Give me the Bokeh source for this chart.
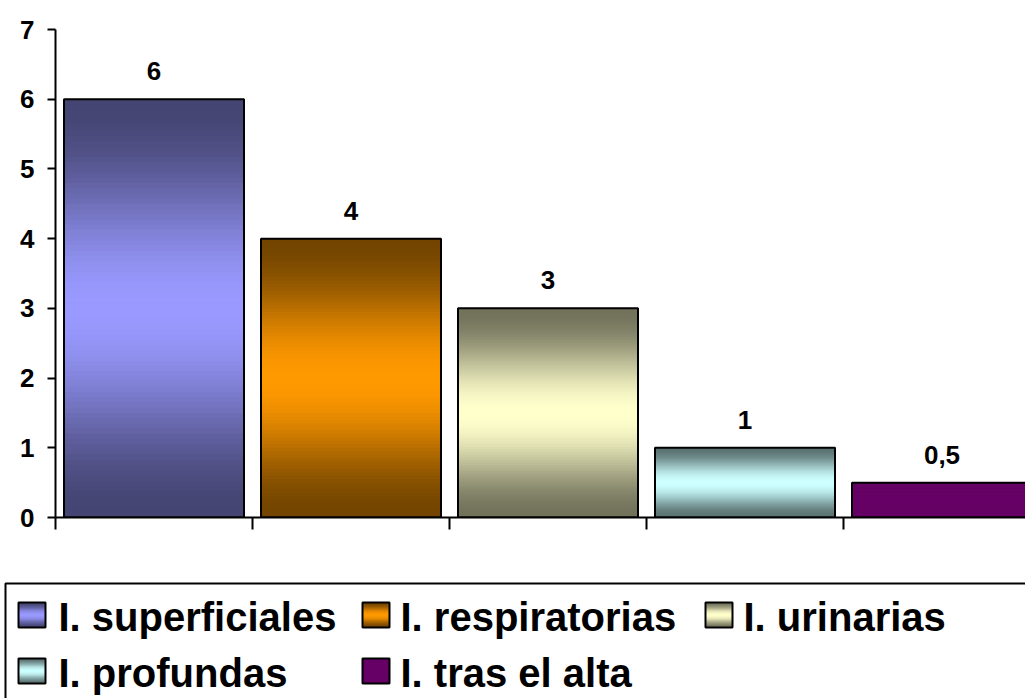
import numpy as np
from bokeh.plotting import figure
from bokeh.layouts import column
from bokeh.models import Range1d, FixedTicker, ColumnDataSource
from bokeh.core.properties import value
from bokeh.embed import file_html
from bokeh.resources import INLINE

# ---- data ----
categories = ["I. superficiales", "I. respiratorias", "I. urinarias", "I. profundas", "I. tras el alta"]
values = [6, 4, 3, 1, 0.5]
value_labels = ["6", "4", "3", "1", "0,5"]
light_colors = ["#9999FF", "#FF9900", "#FFFFCC", "#CCFFFF", "#660066"]
gradient = [True, True, True, True, False]
y_ticks = [0, 1, 2, 3, 4, 5, 6, 7]

FONT = "Liberation Sans"
N = 80

def hex2rgb(h):
    h = h.lstrip("#")
    return np.array([int(h[i:i + 2], 16) for i in (0, 2, 4)], dtype=float)

def rgb2hex(c):
    c = np.clip(np.round(c), 0, 255).astype(int)
    return "#%02x%02x%02x" % tuple(c)

def band_color(light, grad, t):
    lc = hex2rgb(light)
    if not grad:
        return rgb2hex(lc)
    dc = lc * 0.45
    m = np.sin(np.pi * t) ** 2
    return rgb2hex(dc + (lc - dc) * m)

# ---- main chart ----
W = 1025
cat_w = 197.0
frame_w = W - 55.0
p = figure(width=W, height=560, output_backend="svg", toolbar_location=None,
           x_range=Range1d(0, frame_w / cat_w), y_range=Range1d(0, 7),
           min_border_left=55, min_border_right=0, min_border_top=29, min_border_bottom=43)
p.xgrid.visible = False
p.ygrid.visible = False
p.outline_line_color = None
p.background_fill_color = "white"
p.border_fill_color = "white"

centers = [i + 0.5 for i in range(len(categories))]
bw = 180.0 / cat_w

# gradient bands: nested quads (each from its own top down to the base) -> no seams
bl, br, bb, bt, bc = [], [], [], [], []
for i, v in enumerate(values):
    h = v / N
    for k in range(N):
        bl.append(centers[i] - bw / 2)
        br.append(centers[i] + bw / 2)
        bt.append(v - k * h)
        bb.append(0.0)
        bc.append(band_color(light_colors[i], gradient[i], (k + 0.5) / N))
p.quad(left=bl, right=br, bottom=bb, top=bt, fill_color=bc, line_color=None)

src = ColumnDataSource(dict(x=centers, v=values, lab=value_labels,
                            l=[c - bw / 2 for c in centers], r=[c + bw / 2 for c in centers],
                            b=[0] * len(values)))
p.quad(left="l", right="r", bottom="b", top="v", source=src, fill_color=None,
       line_color="black", line_width=2)
p.text(x="x", y="v", text="lab", source=src, text_align="center", text_baseline="alphabetic",
       y_offset=-28, text_font=value(FONT), text_font_style="bold", text_font_size="26px",
       text_color="black")

p.yaxis.ticker = FixedTicker(ticks=y_ticks)
p.yaxis.minor_tick_line_color = None
p.yaxis.major_tick_out = 8
p.yaxis.major_tick_in = 0
p.yaxis.axis_line_width = 2
p.yaxis.major_tick_line_width = 2
p.yaxis.major_label_text_font = FONT
p.yaxis.major_label_text_font_style = "bold"
p.yaxis.major_label_text_font_size = "26px"
p.yaxis.major_label_text_color = "black"
p.yaxis.major_label_standoff = 13

x_ticks = list(range(len(categories)))
p.xaxis.ticker = FixedTicker(ticks=x_ticks)
p.xaxis.minor_tick_line_color = None
p.xaxis.major_tick_out = 12
p.xaxis.major_tick_in = 0
p.xaxis.axis_line_width = 2
p.xaxis.major_tick_line_width = 2
p.xaxis.major_label_overrides = {t: "" for t in x_ticks}

# ---- legend panel ----
LW, LH = W, 138
lg = figure(width=LW, height=LH, output_backend="svg", toolbar_location=None,
            x_range=Range1d(0, LW), y_range=Range1d(LH, 0),
            x_axis_location=None, y_axis_location=None,
            min_border_left=0, min_border_right=0, min_border_top=0, min_border_bottom=0)
lg.xgrid.visible = False
lg.ygrid.visible = False
lg.outline_line_color = None

for fig in (p, lg):
    try:
        fig.frame_align = False
    except Exception:
        pass

lg.quad(left=[5], right=[LW + 20], top=[23], bottom=[LH + 20], fill_color=None,
        line_color="black", line_width=2)

glyph_x = [18, 362, 705, 18, 362]
text_x = [58, 400, 743, 58, 400]
row_top = [42, 42, 42, 98, 98]
gw, gh = 27, 25
gl, gr, gt, gb, gc = [], [], [], [], []
M = 20
for i in range(len(categories)):
    for k in range(M):
        gl.append(glyph_x[i])
        gr.append(glyph_x[i] + gw)
        gt.append(row_top[i] + k * gh / M)
        gb.append(row_top[i] + gh)
        gc.append(band_color(light_colors[i], gradient[i], (k + 0.5) / M))
lg.quad(left=gl, right=gr, top=gt, bottom=gb, fill_color=gc, line_color=None)
lg.quad(left=glyph_x, right=[x + gw for x in glyph_x], top=row_top,
        bottom=[t + gh for t in row_top], fill_color=None, line_color="black", line_width=2)
lg.text(x=text_x, y=[t + gh for t in row_top], text=categories, text_align="left",
        text_baseline="alphabetic", y_offset=-11, text_font=value(FONT), text_font_style="bold",
        text_font_size="40px", text_color="black")

layout = column(p, lg, spacing=0)
open("out.html", "w").write(file_html(layout, INLINE))
